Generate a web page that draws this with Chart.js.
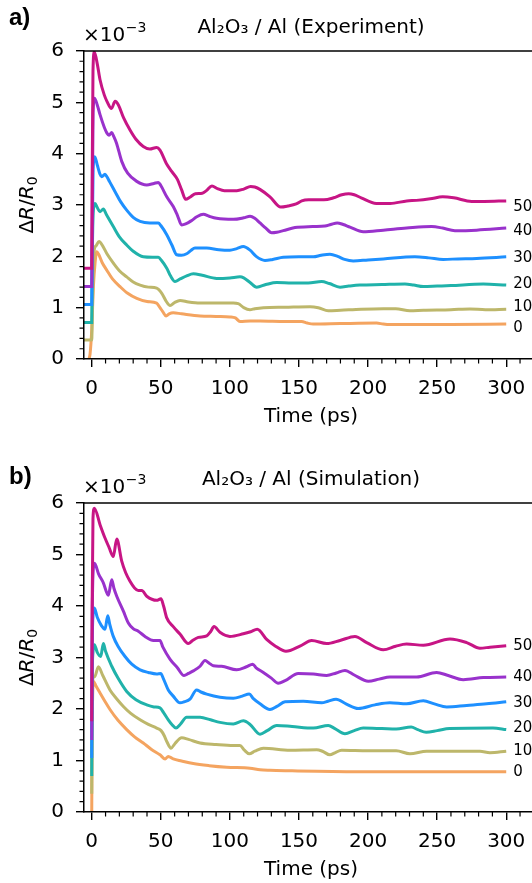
<!DOCTYPE html>
<html><head><meta charset="utf-8">
<script src="https://cdn.jsdelivr.net/npm/chart.js@4.4.1/dist/chart.umd.min.js"></script>
<style>
html,body{margin:0;padding:0;background:#fff;overflow:hidden;width:532px;height:883px;position:relative;}
canvas{position:absolute;left:0;}
#ca{top:0;}
#cb{top:452px;}
</style></head><body>
<canvas id="ca" width="540" height="429"></canvas>
<canvas id="cb" width="540" height="430"></canvas>
<script>
// ---- series labels / colours ----
const seriesNames = ['0', '10', '20', '30', '40', '50'];
const seriesColors = ['#f4a460', '#bdb76b', '#20b2aa', '#1e90ff', '#9932cc', '#c71585'];
const xTickValues = [0, 50, 100, 150, 200, 250, 300];
const yTickValues = [0, 1, 2, 3, 4, 5, 6];

// ---- panel a) experiment: [time (ps), dR/R0 x1e-3] ----
const exp0 = [[-2,0],[-1.2,0.1],[0,0.57],[1.2,1.41],[2.4,1.87],[3.6,2.09],[5,2.04],[7.5,1.88],[10.9,1.73],[15,1.56],[20.5,1.41],[26,1.28],[32.6,1.18],[40,1.12],[47,1.09],[49.4,1.0],[51.5,0.92],[53.8,0.84],[56,0.88],[59,0.9],[65,0.88],[78.4,0.84],[90,0.83],[100,0.82],[104,0.8],[107.3,0.73],[114.6,0.74],[121.8,0.74],[140,0.73],[151.9,0.73],[156,0.7],[160.3,0.68],[180,0.69],[206.2,0.7],[211,0.68],[215.8,0.67],[240,0.67],[260,0.67],[300,0.68]];
const exp10 = [[-6,0.37],[0,0.37],[0.6,1.2],[1.7,2.1],[3,2.2],[5.3,2.29],[8,2.2],[11,2.05],[15.6,1.87],[20,1.72],[25.3,1.6],[30,1.5],[35,1.44],[41,1.4],[47,1.38],[50.7,1.28],[54,1.12],[56.7,1.04],[60,1.1],[63.9,1.14],[70,1.11],[78.4,1.09],[90,1.09],[102.5,1.09],[106,1.08],[110,1.0],[114.5,0.96],[118,0.98],[124.2,1.0],[140,1.01],[158,1.02],[164,1.0],[171.2,0.94],[180,0.95],[195,0.97],[211,0.98],[220,0.98],[230.3,0.94],[240,0.95],[260,0.96],[273.7,0.975],[285,0.96],[300,0.97]];
const exp20 = [[-6,0.71],[0,0.71],[0.4,2],[1.2,2.9],[2.4,3.03],[4,2.95],[6,2.87],[8.4,2.92],[10.5,2.82],[15.6,2.58],[20,2.38],[25.3,2.22],[30,2.1],[37.3,1.99],[44,1.98],[48.2,1.98],[50.5,1.92],[54.3,1.77],[57,1.62],[60.3,1.51],[64,1.56],[68.7,1.62],[73.5,1.66],[80,1.63],[90.4,1.57],[100,1.58],[107.3,1.6],[110,1.58],[114.6,1.49],[119.4,1.4],[126,1.45],[133.9,1.49],[145,1.48],[156.7,1.48],[166.4,1.51],[172,1.47],[179.7,1.4],[186,1.42],[194.1,1.44],[210,1.45],[226.7,1.46],[233,1.44],[240,1.41],[250,1.42],[260,1.43],[283.4,1.46],[300,1.44]];
const exp30 = [[-6,1.06],[0,1.06],[0.4,2.5],[1,3.7],[2.2,3.94],[4,3.78],[6,3.6],[7.2,3.55],[9.6,3.6],[11,3.55],[13,3.45],[16.9,3.26],[21,3.06],[25.3,2.9],[30,2.76],[35,2.68],[42,2.65],[48.2,2.65],[50,2.6],[54.3,2.42],[58,2.22],[61.5,2.03],[65,2.02],[68.7,2.05],[72,2.12],[74.7,2.16],[83.2,2.16],[92,2.13],[100,2.12],[105,2.15],[109.7,2.19],[114.6,2.12],[119,2.0],[125.4,1.92],[131,1.94],[138.6,1.98],[150,1.99],[160.4,1.99],[166,2.02],[172.4,2.04],[178,2.0],[183,1.94],[189.3,1.91],[200,1.93],[211,1.95],[233.9,1.99],[244,1.97],[254.4,1.94],[265,1.95],[278.6,1.96],[300,1.99]];
const exp40 = [[-6,1.41],[0,1.41],[0.4,3],[1,4.8],[2,5.08],[4,4.95],[6,4.76],[9,4.52],[11,4.4],[12.5,4.36],[14.5,4.41],[16,4.33],[18,4.2],[21.7,3.85],[26,3.62],[32.6,3.46],[39.8,3.39],[45,3.42],[48.2,3.44],[50,3.38],[54.3,3.16],[59,2.97],[62,2.8],[65.1,2.61],[68,2.63],[72.4,2.7],[76,2.77],[80.8,2.82],[85,2.78],[90.4,2.74],[102.5,2.72],[110,2.75],[114.6,2.78],[118,2.74],[121.8,2.65],[126,2.55],[130.2,2.46],[134,2.47],[138.6,2.5],[147.1,2.56],[160,2.58],[168.8,2.59],[173,2.62],[177.7,2.65],[182,2.62],[186.9,2.57],[196.5,2.48],[211,2.51],[227.9,2.55],[246,2.58],[254,2.55],[262.9,2.5],[278.6,2.51],[300,2.55]];
const exp50 = [[-6,1.77],[0,1.77],[0.3,3.5],[0.9,5.6],[1.9,5.98],[4,5.75],[6,5.44],[9,5.15],[11,5.02],[14.3,4.88],[16.9,5.02],[19.3,4.95],[23,4.7],[27.7,4.46],[32,4.28],[37.3,4.14],[42,4.09],[47,4.12],[49.4,4.07],[54,3.81],[58,3.65],[62,3.5],[65,3.3],[68,3.11],[71,3.15],[75,3.22],[80,3.23],[83,3.28],[87,3.37],[91,3.32],[96,3.28],[105,3.28],[110,3.31],[115,3.36],[118,3.35],[122,3.3],[129,3.16],[136.8,2.96],[142,2.98],[148,3.02],[152,3.08],[157,3.1],[168,3.1],[175,3.14],[181,3.2],[186,3.22],[190,3.2],[195,3.14],[206,3.03],[216,3.03],[228,3.08],[235,3.09],[245,3.12],[254,3.16],[262,3.14],[275,3.07],[284,3.07],[300,3.08]];

// ---- panel b) simulation ----
const sim0 = [[0,0],[0.3,1.5],[1.2,2.54],[3,2.45],[6,2.31],[9.5,2.15],[13.2,1.99],[19,1.78],[25.3,1.6],[31,1.46],[37.3,1.34],[43,1.22],[49.4,1.11],[53.1,1.03],[55.4,1.08],[59,1.03],[65,0.99],[73.5,0.94],[85,0.9],[97.7,0.87],[114.6,0.85],[121.8,0.82],[129,0.81],[145,0.8],[162.8,0.79],[200,0.78],[250,0.78],[300,0.78]];
const sim10 = [[0,0.355],[0.3,2],[0.9,2.6],[2.2,2.63],[4.8,2.82],[8,2.65],[13.2,2.37],[18,2.2],[22.9,2.05],[28,1.92],[35,1.79],[41,1.7],[47,1.63],[50.2,1.58],[52.5,1.48],[54.3,1.37],[57.4,1.24],[60.3,1.33],[65.1,1.44],[70,1.41],[78.4,1.34],[90,1.31],[102.5,1.29],[107.3,1.29],[110.5,1.2],[114,1.13],[118,1.18],[124.2,1.24],[143.5,1.2],[162.8,1.21],[167,1.18],[172.4,1.11],[176,1.15],[180.9,1.2],[200,1.19],[220.4,1.19],[230.3,1.13],[242.4,1.18],[281,1.18],[288.2,1.15],[300,1.18]];
const sim20 = [[0,0.7],[0.3,2.5],[0.9,3.1],[1.9,3.25],[4,3.1],[6.5,3.02],[8.4,3.27],[10,3.12],[14.5,2.83],[19,2.6],[25.3,2.34],[32,2.18],[39.8,2.08],[45,2.04],[49.4,2.02],[52,1.93],[55.4,1.79],[58,1.7],[61,1.63],[64,1.7],[68.7,1.84],[78.4,1.84],[86,1.79],[92.8,1.74],[102.5,1.71],[109.7,1.77],[114.6,1.7],[121.8,1.51],[127,1.58],[133.9,1.68],[145,1.66],[160.4,1.63],[171.2,1.68],[176,1.62],[183.3,1.52],[190,1.58],[196.5,1.63],[210,1.62],[220.4,1.61],[231.2,1.65],[236,1.6],[242.1,1.55],[250,1.58],[259,1.62],[290.4,1.63],[300,1.6]];
const sim30 = [[0,1.05],[0.3,3],[0.9,3.8],[1.9,3.96],[4,3.78],[7,3.62],[9.6,3.55],[11.6,3.81],[13,3.65],[15.6,3.41],[19,3.22],[24.1,3.02],[29,2.87],[35,2.76],[41,2.71],[47,2.68],[49.9,2.69],[52,2.58],[55.4,2.37],[59,2.25],[63.9,2.12],[67,2.14],[71.1,2.19],[75.9,2.37],[79,2.33],[83.2,2.29],[92.8,2.23],[102.5,2.21],[109,2.25],[114,2.29],[117,2.2],[121.8,2.1],[129,1.99],[134,2.05],[139.9,2.14],[153.1,2.15],[166.4,2.12],[171,2.15],[176.8,2.19],[184,2.1],[192.9,2.01],[205,2.08],[215.8,2.12],[227.9,2.1],[240,2.16],[248,2.1],[256.9,2.04],[271.4,2.07],[285.8,2.1],[300,2.14]];
const sim40 = [[0,1.4],[0.3,3.5],[0.9,4.6],[2,4.83],[5,4.62],[8.4,4.45],[12,4.21],[14.5,4.51],[16,4.35],[18.1,4.19],[22.9,3.9],[26.5,3.67],[30,3.56],[33.7,3.51],[39,3.4],[44.6,3.33],[49.4,3.33],[51.5,3.2],[56.6,2.97],[62,2.8],[66.8,2.65],[70,2.69],[73.5,2.74],[78.4,2.83],[82,2.94],[85,2.89],[88,2.84],[94,2.83],[104.9,2.76],[112,2.82],[116.5,2.87],[119,2.8],[124.2,2.71],[130,2.6],[135,2.5],[140,2.55],[149.5,2.69],[160.4,2.68],[170,2.65],[177,2.7],[183.3,2.75],[190,2.66],[200.2,2.54],[208,2.58],[215.8,2.62],[235.2,2.62],[249.6,2.71],[258,2.65],[268.9,2.57],[283.4,2.61],[300,2.62]];
const sim50 = [[0,1.76],[0.3,4],[0.9,5.7],[1.9,5.9],[6,5.58],[9.6,5.32],[12.5,5.14],[15.6,4.96],[18.1,5.3],[21.7,4.87],[24.5,4.65],[27.7,4.48],[31,4.35],[33.7,4.3],[36.2,4.3],[39.8,4.19],[47,4.11],[50.1,4.14],[52,4.0],[54.3,3.77],[59,3.6],[64,3.45],[69.9,3.27],[73,3.33],[77.2,3.39],[83.2,3.42],[86,3.5],[88.5,3.6],[92.8,3.49],[100,3.41],[109.7,3.46],[115,3.5],[119.8,3.55],[126.6,3.35],[133,3.22],[140.6,3.12],[150.7,3.22],[159.2,3.33],[170,3.27],[179.7,3.33],[190.5,3.41],[199,3.29],[211,3.15],[220,3.22],[227.9,3.26],[240,3.24],[259.3,3.36],[271.4,3.29],[281,3.18],[288.2,3.2],[300,3.23]];

// ---- end-of-line label positions (data coordinates) ----
const labelX = 305;
const labelYExp = [0.61, 1.02, 1.46, 1.96, 2.50, 2.96];
const labelYSim = [0.78, 1.18, 1.63, 2.12, 2.62, 3.22];

const FONT = 'DejaVu Sans';
Chart.defaults.font.family = FONT;
Chart.defaults.color = '#000';

const deco = {
  id: 'deco',
  afterDraw(chart, args, o) {
    const {ctx, chartArea: a} = chart;
    const x = chart.scales.x, y = chart.scales.y;
    ctx.save();
    ctx.strokeStyle = '#000';
    ctx.lineWidth = 1.5;
    ctx.beginPath(); ctx.moveTo(a.left - 0.75, a.top); ctx.lineTo(a.right + 5, a.top); ctx.stroke();
    ctx.lineWidth = 1.2;
    ctx.beginPath();
    for (let v = 10; v <= 320; v += 10) {
      if (v % 50 === 0) continue;
      const px = x.getPixelForValue(v);
      ctx.moveTo(px, a.bottom); ctx.lineTo(px, a.bottom + 4.5);
    }
    for (let k = 1; k < 30; k++) {
      if (k % 5 === 0) continue;
      const py = y.getPixelForValue(k * 0.2);
      ctx.moveTo(a.left - 4.5, py); ctx.lineTo(a.left, py);
    }
    ctx.stroke();
    ctx.fillStyle = '#000';
    // series labels
    ctx.font = '15px "' + FONT + '"';
    ctx.textAlign = 'left'; ctx.textBaseline = 'middle';
    o.names.forEach((t, i) => ctx.fillText(t, x.getPixelForValue(labelX), y.getPixelForValue(o.labelY[i])));
    // offset text x10^-3
    ctx.textBaseline = 'alphabetic';
    ctx.font = '20px "' + FONT + '"';
    const ox = a.left - 1, oy = a.top - 10.5;
    ctx.fillText('×10', ox, oy);
    const w = ctx.measureText('×10').width;
    ctx.font = '14px "' + FONT + '"';
    ctx.fillText('−3', ox + w + 0.5, oy - 8.5);
    // y-axis label: ΔR/R0 with italic R and subscript 0
    const parts = [
      ['Δ', '20px "' + FONT + '"', 0],
      ['R', 'italic 20px "' + FONT + '"', 0],
      ['/', '20px "' + FONT + '"', 0],
      ['R', 'italic 20px "' + FONT + '"', 0],
      ['0', '14px "' + FONT + '"', 4]
    ];
    let total = 0;
    parts.forEach(p => { ctx.font = p[1]; total += ctx.measureText(p[0]).width; });
    ctx.save();
    ctx.translate(33, (a.top + a.bottom) / 2);
    ctx.rotate(-Math.PI / 2);
    let cx = -total / 2;
    parts.forEach(p => { ctx.font = p[1]; ctx.fillText(p[0], cx, p[2]); cx += ctx.measureText(p[0]).width; });
    ctx.restore();
    // panel letter
    ctx.font = 'bold 24px "Liberation Sans"';
    ctx.fillText(o.letter, 9, o.letterY);
    ctx.restore();
  }
};

function build(canvasId, series, title, labelY, letter, letterY) {
  const datasets = series.map((s, i) => ({
    label: seriesNames[i],
    data: s.map(p => ({x: p[0], y: p[1]})),
    borderColor: seriesColors[i],
    borderWidth: 3,
    pointRadius: 0,
    fill: false,
    cubicInterpolationMode: 'monotone',
    clip: 0,
    order: series.length - 1 - i
  }));
  const tickFont = {family: FONT, size: 20};
  return new Chart(document.getElementById(canvasId), {
    type: 'line',
    data: {datasets},
    options: {
      responsive: false,
      animation: false,
      events: [],
      layout: {padding: {left: 0, right: 2, top: 0, bottom: 0}},
      plugins: {
        legend: {display: false},
        tooltip: {enabled: false},
        title: {display: true, text: title, fullSize: false, color: '#000',
          font: {family: FONT, size: 20, weight: 'normal'}, padding: {top: 16, bottom: 11}},
        deco: {names: seriesNames, labelY, letter, letterY}
      },
      scales: {
        x: {
          type: 'linear', min: -5.6, max: 323,
          ticks: {stepSize: 50, includeBounds: false, autoSkip: false, maxRotation: 0, font: tickFont, color: '#000', padding: 10,
            callback: v => xTickValues.includes(v) ? String(v) : ''},
          grid: {display: true, drawOnChartArea: false, drawTicks: true, tickLength: 8, color: '#000', lineWidth: 1.4},
          border: {display: true, color: '#000', width: 1.5, z: 1},
          title: {display: true, text: 'Time (ps)', color: '#000', font: {family: FONT, size: 20}, padding: {top: 0, bottom: 0}},
          afterFit: s => { s.height = 70; }
        },
        y: {
          type: 'linear', min: 0, max: 6,
          ticks: {stepSize: 1, autoSkip: false, font: tickFont, color: '#000', padding: 12,
            callback: v => yTickValues.includes(v) ? String(v) : ''},
          grid: {display: true, drawOnChartArea: false, drawTicks: true, tickLength: 8, color: '#000', lineWidth: 1.4},
          border: {display: true, color: '#000', width: 1.5, z: 1},
          title: {display: false, text: 'ΔR/R₀'},
          afterFit: s => { s.width = 84; }
        }
      }
    },
    plugins: [deco]
  });
}

build('ca', [exp0, exp10, exp20, exp30, exp40, exp50], 'Al₂O₃ / Al (Experiment)', labelYExp, 'a)', 25);
build('cb', [sim0, sim10, sim20, sim30, sim40, sim50], 'Al₂O₃ / Al (Simulation)', labelYSim, 'b)', 32);
</script>
</body></html>
